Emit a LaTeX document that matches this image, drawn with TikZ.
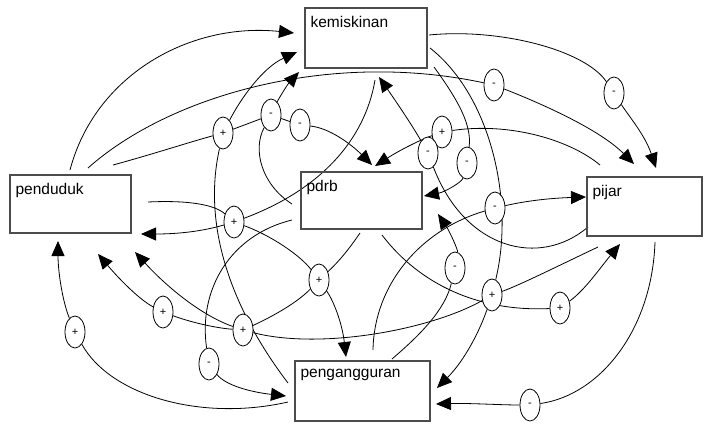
\documentclass[tikz,border=0pt]{standalone}
\usepackage{fontspec}
\setmainfont{Liberation Sans}
\usetikzlibrary{arrows.meta,shapes.geometric,backgrounds}

\tikzset{
  varbox/.style={draw=black!70, line width=1.2pt, inner sep=0pt},
  lbl/.style={anchor=north west, inner sep=0pt, xshift=6pt, yshift=-9pt, font=\fontsize{15.5}{18}\selectfont},
  sgn/.style={ellipse, draw, fill=white, line width=0.8pt, minimum width=20pt, minimum height=32pt, inner sep=0pt, font=\fontsize{11}{12}\selectfont},
  link/.style={line width=0.8pt, -{Triangle[length=15pt,width=13pt]}}
}

\begin{document}
\begin{tikzpicture}[x=1pt,y=-1pt]
\useasboundingbox (0,0) rectangle (704,423);

%Shape: Rectangle
\node[varbox, minimum width=122pt, minimum height=60pt, label={[lbl]north west:kemiskinan}] (kem) at (366,38) {};
%Shape: Rectangle
\node[varbox, minimum width=121pt, minimum height=58pt, label={[lbl]north west:penduduk}] (pend) at (70.5,204) {};
%Shape: Rectangle
\node[varbox, minimum width=121pt, minimum height=57pt, label={[lbl]north west:pdrb}] (pdrb) at (361.5,200.5) {};
%Shape: Rectangle
\node[varbox, minimum width=115pt, minimum height=59pt, label={[lbl]north west:pijar}] (pijar) at (644.5,206.5) {};
%Shape: Rectangle
\node[varbox, minimum width=135pt, minimum height=60pt, label={[lbl]north west:pengangguran}] (peng) at (362.5,391) {};

%Shape: Ellipse (signs)
\node[sgn] (sA) at (223,133) {+};
\node[sgn] (sB) at (271,115) {-};
\node[sgn] (sC) at (300,125) {-};
\node[sgn] (sD) at (494,85) {-};
\node[sgn] (sE) at (614,93) {-};
\node[sgn] (sF) at (442,132) {+};
\node[sgn] (sG) at (428,153) {-};
\node[sgn] (sH) at (467,163) {-};
\node[sgn] (sI) at (495,208) {-};
\node[sgn] (sJ) at (234,222) {+};
\node[sgn] (sK) at (319,280) {+};
\node[sgn] (sL) at (163,312) {+};
\node[sgn] (sM) at (243,330) {+};
\node[sgn] (sN) at (75,332) {+};
\node[sgn] (sO) at (209,364) {-};
\node[sgn] (sP) at (455,268) {-};
\node[sgn] (sQ) at (492,295) {+};
\node[sgn] (sR) at (560,308) {+};
\node[sgn] (sS) at (530,405) {-};

%free ends
\coordinate (a1) at (70,170);  \coordinate (a2) at (294,33);
\coordinate (b1) at (288,383); \coordinate (b2) at (297,52);
\coordinate (c1) at (292,204); \coordinate (c2) at (299,72);
\coordinate (d1) at (113,165); \coordinate (d2) at (372,165);
\coordinate (e1) at (88,168);  \coordinate (e2) at (634,164);
\coordinate (f1) at (429,35);  \coordinate (f2) at (656,168);
\coordinate (g1) at (600,165); \coordinate (g2) at (375,166);
\coordinate (h1) at (588,227); \coordinate (h2) at (379,77);
\coordinate (i1) at (434,67);  \coordinate (i2) at (424,196);
\coordinate (j1) at (373,350); \coordinate (j2) at (586,197);
\coordinate (k1) at (375,80);  \coordinate (k2) at (141,234);
\coordinate (l1) at (148,202); \coordinate (l2) at (346,357);
\coordinate (m1) at (360,233); \coordinate (m2) at (98,254);
\coordinate (n1) at (598,247); \coordinate (n2) at (135,252);
\coordinate (o1) at (288,402); \coordinate (o2) at (58,241);
\coordinate (p1) at (292,220); \coordinate (p2) at (286,396);
\coordinate (q1) at (392,359); \coordinate (q2) at (438,214);
\coordinate (r1) at (430,48);  \coordinate (r2) at (437,388);
\coordinate (u1) at (382,235); \coordinate (u2) at (620,244);
\coordinate (t1) at (655,242); \coordinate (t2) at (436,404);

\begin{scope}[on background layer]
%Curve Lines
\draw[link] (a1) .. controls (95,75) and (190,22) .. (a2);
\draw[link] (b1) .. controls (240,320) and (200,235) .. (sA) .. controls (240,100) and (262,68) .. (b2);
\draw[link] (c1) .. controls (262,185) and (252,150) .. (sB) .. controls (278,100) and (287,85) .. (c2);
\draw[link] (d1) .. controls (150,155) and (190,142) .. (sA) -- (sB) -- (sC) .. controls (330,128) and (352,145) .. (d2);
\draw[link] (e1) .. controls (170,95) and (330,50) .. (sD) .. controls (545,105) and (600,130) .. (e2);
\draw[link] (f1) .. controls (500,28) and (585,50) .. (sE) .. controls (628,115) and (645,135) .. (f2);
\draw[link] (g1) .. controls (570,140) and (510,122) .. (sF) .. controls (420,140) and (400,150) .. (g2);
\draw[link] (h1) .. controls (540,268) and (465,250) .. (sG) .. controls (412,125) and (395,100) .. (h2);
\draw[link] (i1) .. controls (458,100) and (472,125) .. (sH) .. controls (462,182) and (445,192) .. (i2);
\draw[link] (j1) .. controls (374,285) and (420,230) .. (sI) .. controls (530,200) and (555,198) .. (j2);
\draw[link] (k1) .. controls (365,140) and (320,190) .. (sJ) .. controls (200,232) and (175,234) .. (k2);
\draw[link] (l1) .. controls (190,200) and (215,205) .. (sJ) .. controls (270,235) and (300,255) .. (sK) .. controls (333,300) and (342,322) .. (l2);
\draw[link] (m1) .. controls (345,255) and (335,265) .. (sK) .. controls (295,305) and (265,320) .. (sM) .. controls (215,328) and (190,322) .. (sL) .. controls (140,300) and (120,280) .. (m2);
\draw[link] (n1) .. controls (560,265) and (520,285) .. (sQ) .. controls (430,330) and (320,350) .. (sM) .. controls (200,315) and (165,285) .. (n2);
\draw[link] (o1) .. controls (200,422) and (110,395) .. (sN) .. controls (62,300) and (58,270) .. (o2);
\draw[link] (p1) .. controls (230,235) and (198,290) .. (sO) .. controls (225,385) and (250,392) .. (p2);
\draw[link] (q1) .. controls (420,335) and (445,310) .. (sP) .. controls (458,250) and (450,232) .. (q2);
\draw[link] (r1) .. controls (490,95) and (515,200) .. (sQ) .. controls (480,330) and (465,360) .. (r2);
\draw[link] (u1) .. controls (420,285) and (480,312) .. (sR) .. controls (585,290) and (600,268) .. (u2);
\draw[link] (t1) .. controls (652,330) and (600,395) .. (sS) .. controls (500,405) and (470,403) .. (t2);
\end{scope}

\end{tikzpicture}
\end{document}
